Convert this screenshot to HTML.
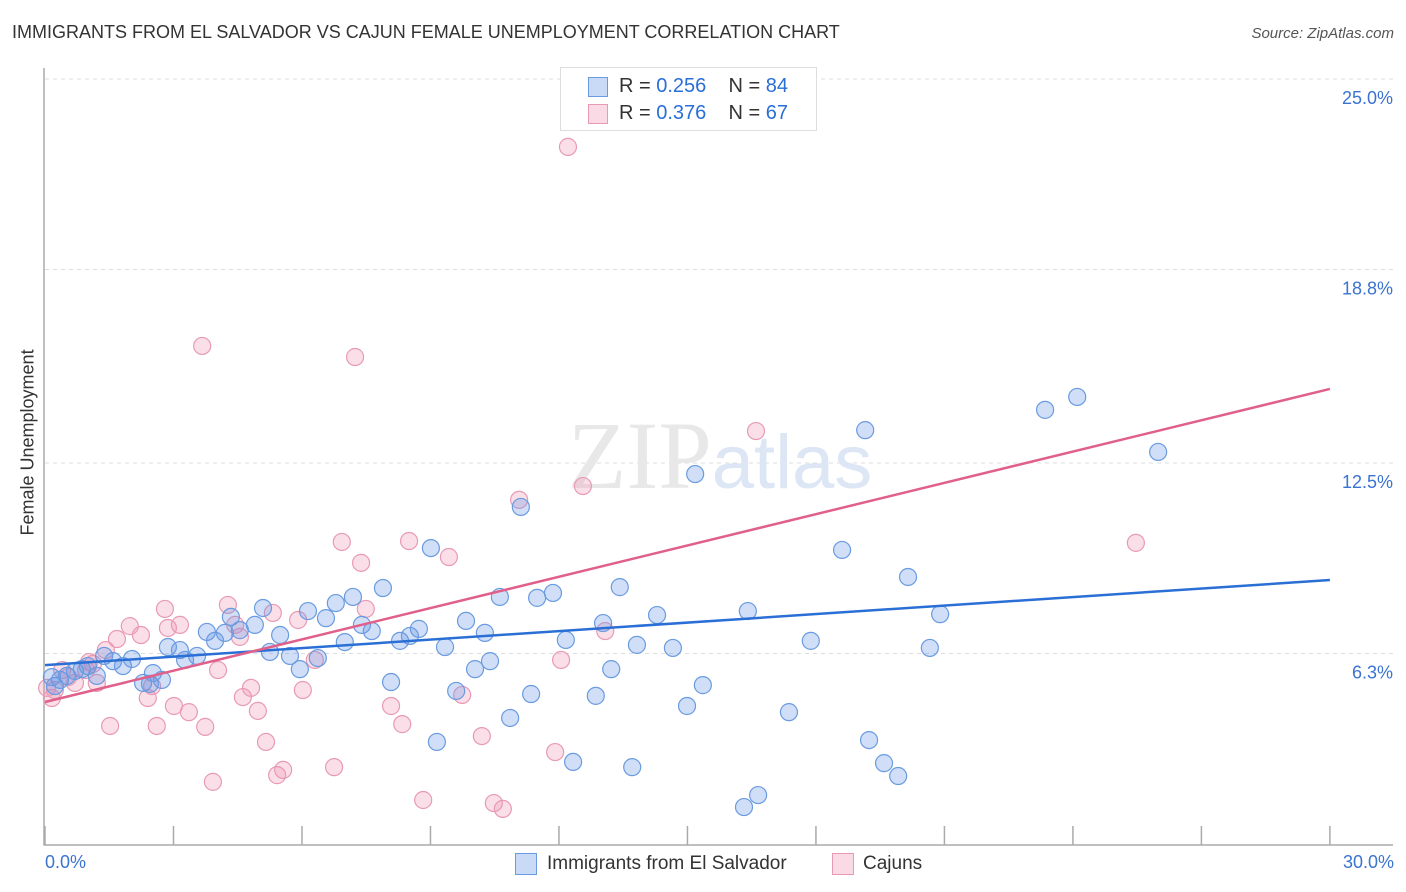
<!DOCTYPE html>
<html><head><meta charset="utf-8">
<style>
body{margin:0;background:#fff;font-family:"Liberation Sans",sans-serif;}
#c{position:relative;width:1406px;height:892px;overflow:hidden;}
.t{position:absolute;white-space:nowrap;}
</style></head>
<body>
<div id="c">
<div class="t" style="left:12px;top:22px;font-size:18px;color:#333;">IMMIGRANTS FROM EL SALVADOR VS CAJUN FEMALE UNEMPLOYMENT CORRELATION CHART</div>
<div class="t" style="right:12px;top:25px;font-size:15px;color:#555;font-style:italic;">Source: ZipAtlas.com</div>
<div class="t" style="left:-52px;top:445px;font-size:18px;color:#333;transform:rotate(-90deg);width:160px;text-align:center;">Female Unemployment</div>
<svg id="s" width="1406" height="892" style="position:absolute;left:0;top:0"></svg>
</div>
<script>
const yTicks=[25,18.8,12.5,6.3];
const yTickLabels=["25.0%","18.8%","12.5%","6.3%"];
const xTicks=[0,3,6,9,12,15,18,21,24,27,30];
const blueX=[0.16,0.23,0.35,0.51,0.70,0.86,1.00,1.21,1.38,1.59,1.82,2.03,2.29,2.45,2.52,2.73,2.87,3.15,3.27,3.55,3.78,3.97,4.20,4.34,4.55,4.90,5.09,5.25,5.49,5.72,5.95,6.14,6.37,6.56,6.79,7.00,7.19,7.40,7.63,7.89,8.08,8.29,8.52,8.73,9.01,9.15,9.34,9.60,9.83,10.04,10.27,10.39,10.62,10.86,11.11,11.35,11.49,11.86,12.16,12.33,12.86,13.03,13.22,13.42,13.71,13.82,14.29,14.66,14.99,15.18,15.36,16.32,16.41,16.65,17.37,17.88,18.61,19.15,19.24,19.59,19.92,20.15,20.66,20.90,23.35,24.10,25.99];
const blueY=[5.53,5.24,5.44,5.57,5.73,5.79,5.89,5.57,6.22,6.05,5.89,6.12,5.34,5.31,5.66,5.44,6.51,6.41,6.09,6.22,7.00,6.71,6.97,7.49,7.06,7.23,7.78,6.35,6.90,6.22,5.79,7.68,6.15,7.45,7.94,6.67,8.14,7.23,7.03,8.43,5.37,6.71,6.87,7.10,9.73,3.42,6.51,5.08,7.36,5.79,6.97,6.05,8.14,4.20,11.07,4.98,8.11,8.27,6.74,2.77,4.92,7.29,5.79,8.46,2.60,6.58,7.55,6.48,4.59,12.14,5.27,1.30,7.68,1.69,4.39,6.71,9.67,13.57,3.48,2.73,2.31,8.79,6.48,7.58,14.23,14.65,12.86];
const pinkX=[0.16,0.23,0.40,0.54,0.70,0.96,1.12,1.21,1.42,1.52,1.68,1.98,2.24,2.40,2.50,2.61,2.80,2.87,3.01,3.15,3.36,3.67,3.74,3.92,4.04,4.27,4.44,4.55,4.62,4.81,4.97,5.16,5.32,5.42,5.56,5.91,6.02,6.30,6.75,6.93,7.24,7.38,7.49,8.08,8.34,8.50,8.83,9.43,9.74,10.20,10.48,10.69,11.07,11.91,12.05,12.21,12.56,13.08,16.60,25.47,0.05,1.03];
const pinkY=[4.85,5.11,5.76,5.53,5.34,5.76,5.96,5.34,6.41,3.94,6.77,7.19,6.90,4.85,5.24,3.94,7.75,7.13,4.59,7.23,4.39,16.31,3.91,2.12,5.76,7.88,7.23,6.84,4.88,5.18,4.43,3.42,7.62,2.34,2.51,7.39,5.11,6.09,2.60,9.93,15.95,9.25,7.75,4.59,4.00,9.96,1.53,9.44,4.95,3.61,1.43,1.24,11.30,3.09,6.09,22.79,11.75,7.03,13.54,9.90,5.18,6.02];
const blueTrend=[5.92,8.69];
const pinkTrend=[4.72,14.91];

const X=v=>45+v*42.83, Y=v=>847-v*30.72;
const s=document.getElementById('s'),NS='http://www.w3.org/2000/svg';
function mk(t,a,p){const e=document.createElementNS(NS,t);for(const k in a)e.setAttribute(k,a[k]);(p||s).appendChild(e);return e;}
yTicks.forEach((v,i)=>{
 const g=mk('line',{x1:45,x2:1393,y1:Y(v),y2:Y(v),stroke:'#ddd','stroke-dasharray':'4,4'});
 
 
 const t=mk('text',{x:1393,y:Y(v)+25,'text-anchor':'end','font-size':18,fill:'#3b73d1','font-family':'Liberation Sans'});
 t.textContent=yTickLabels[i];
 
 
});
const ax=mk('path',{d:'M44 68V845H1393',fill:'none',stroke:'#aaa','stroke-width':1.5});


xTicks.forEach(v=>{const l=mk('line',{x1:X(v),x2:X(v),y1:826,y2:845,stroke:'#aaa','stroke-width':1.5});
 
 });
const wm=mk('text',{x:720,y:488,'text-anchor':'middle','font-size':96,fill:'#e8e8e8','font-family':'Liberation Serif'});
wm.innerHTML='ZIP<tspan fill="#dce6f4" font-family="Liberation Sans" font-size="76">atlas</tspan>';


function pts(xs,ys,f,st,n){xs.forEach((x,i)=>{const c=mk('circle',{cx:X(x),cy:Y(ys[i]),r:8.5,fill:f,stroke:st,'stroke-width':1.2});
 
 });}
pts(pinkX,pinkY,'rgba(240,150,180,0.3)','#e89ab5','cajun-point');
pts(blueX,blueY,'rgba(100,150,230,0.3)','#6a9be0','el-salvador-point');
const bl=mk('line',{x1:X(0),y1:Y(blueTrend[0]),x2:X(30),y2:Y(blueTrend[1]),stroke:'#2a6fd6','stroke-width':2.5});


const pl=mk('line',{x1:X(0),y1:Y(pinkTrend[0]),x2:X(30),y2:Y(pinkTrend[1]),stroke:'#e0608a','stroke-width':2.5});


</script>
<div class="t" style="left:45px;top:852px;font-size:18px;color:#3b73d1;">0.0%</div>
<div class="t" style="right:12px;top:852px;font-size:18px;color:#3b73d1;">30.0%</div>
<div style="position:absolute;left:560px;top:67px;width:255px;height:62px;border:1px solid #ddd;background:#fff;font-size:20px;color:#333;">
 <div style="position:absolute;left:27px;top:9px;width:18px;height:18px;background:rgba(100,150,230,0.35);border:1px solid #6a9be0;"></div>
 <div class="t" style="left:58px;top:7px;">R = <span style="color:#2a6fd6">0.256</span>&nbsp;&nbsp;&nbsp; N = <span style="color:#2a6fd6">84</span></div>
 <div style="position:absolute;left:27px;top:36px;width:18px;height:18px;background:rgba(240,150,180,0.35);border:1px solid #e89ab5;"></div>
 <div class="t" style="left:58px;top:34px;">R = <span style="color:#2a6fd6">0.376</span>&nbsp;&nbsp;&nbsp; N = <span style="color:#2a6fd6">67</span></div>
</div>
<div style="position:absolute;left:515px;top:853px;font-size:19px;color:#333;">
 <div style="position:absolute;left:0;top:0;width:20px;height:20px;background:rgba(100,150,230,0.35);border:1px solid #6a9be0;"></div>
 <div class="t" style="left:32px;top:0;">Immigrants from El Salvador</div>
 <div style="position:absolute;left:317px;top:0;width:20px;height:20px;background:rgba(240,150,180,0.35);border:1px solid #e89ab5;"></div>
 <div class="t" style="left:348px;top:0;">Cajuns</div>
</div>
</body></html>
